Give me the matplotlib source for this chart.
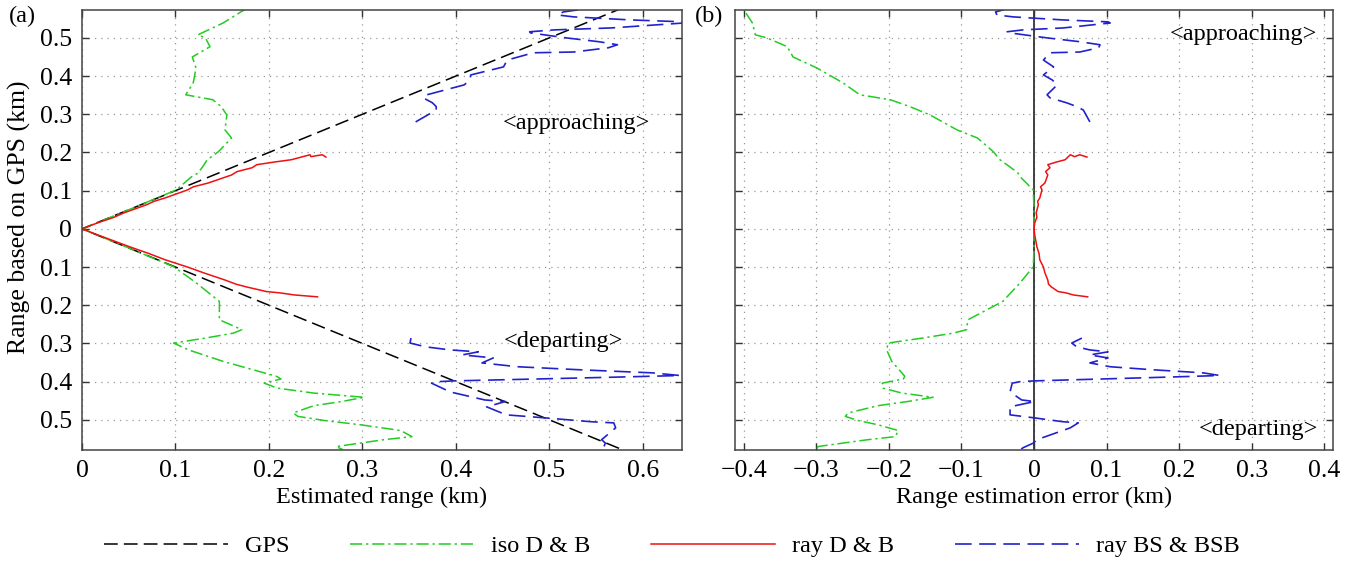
import numpy as np
import matplotlib
matplotlib.use("Agg")
import matplotlib.pyplot as plt
from matplotlib.lines import Line2D
from matplotlib.ticker import FuncFormatter

plt.rcParams["font.family"] = ["Liberation Serif", "DejaVu Serif"]

# GPS range (km): approaching > 0, departing < 0 ; error = estimate - GPS range
iso_app_rng = [0, 0.05, 0.102, 0.136, 0.146, 0.162, 0.181, 0.202, 0.238, 0.259, 0.298, 0.320,
               0.338, 0.351, 0.382, 0.421, 0.450, 0.477, 0.500, 0.508, 0.539, 0.568, 0.578]
iso_app_err = [0, 0.0, -0.001, -0.019, -0.022, -0.033, -0.047, -0.056, -0.078, -0.106, -0.143, -0.171,
               -0.198, -0.240, -0.263, -0.299, -0.332, -0.340, -0.368, -0.384, -0.388, -0.398, -0.401]
iso_dep_rng = [0, -0.05, -0.099, -0.141, -0.190, -0.238, -0.264, -0.273, -0.286, -0.299, -0.317,
               -0.347, -0.386, -0.393, -0.404, -0.417, -0.430, -0.441, -0.452, -0.463, -0.482, -0.491,
               -0.502, -0.513, -0.528, -0.544, -0.552, -0.570, -0.578]
iso_dep_err = [0, 0.0, -0.001, -0.019, -0.043, -0.091, -0.093, -0.111, -0.154, -0.201, -0.203,
               -0.196, -0.178, -0.180, -0.209, -0.208, -0.182, -0.139, -0.174, -0.215, -0.256, -0.260,
               -0.242, -0.215, -0.187, -0.191, -0.229, -0.298, -0.299]

ray_app_rng = [0, 0.016, 0.030, 0.042, 0.063, 0.072, 0.081, 0.102, 0.110, 0.120, 0.141, 0.150,
               0.160, 0.168, 0.175, 0.181, 0.194, 0.189, 0.194, 0.188]
ray_app_err = [0, 0.001, 0.004, 0.003, 0.006, 0.005, 0.008, 0.011, 0.009, 0.015, 0.019, 0.016,
               0.022, 0.019, 0.031, 0.043, 0.050, 0.056, 0.063, 0.073]
ray_dep_rng = [0, -0.016, -0.047, -0.065, -0.081, -0.100, -0.115, -0.134, -0.145, -0.152, -0.164,
               -0.168, -0.173, -0.178]
ray_dep_err = [0, 0.001, 0.004, 0.007, 0.008, 0.013, 0.015, 0.019, 0.020, 0.024, 0.033,
               0.045, 0.054, 0.074]

bs_app_rng = [0.280, 0.311, 0.320, 0.330, 0.343, 0.351, 0.377, 0.390, 0.403, 0.424, 0.442, 0.461,
              0.463, 0.474, 0.482, 0.490, 0.500, 0.513, 0.516, 0.521, 0.526, 0.539, 0.542, 0.547,
              0.555, 0.560, 0.568, 0.573, 0.580]
bs_app_err = [0.077, 0.068, 0.059, 0.045, 0.022, 0.018, 0.032, 0.025, 0.013, 0.027, 0.013, 0.022,
              0.063, 0.089, 0.091, 0.063, 0.018, -0.033, -0.037, -0.015, 0.040, 0.105, 0.102, 0.040,
              -0.029, -0.051, -0.053, -0.043, -0.030]
bs_dep_rng = [-0.286, -0.299, -0.309, -0.317, -0.322, -0.330, -0.338, -0.351, -0.361, -0.369,
              -0.377, -0.384, -0.388, -0.393, -0.398, -0.400, -0.404, -0.427, -0.448, -0.452,
              -0.466, -0.487, -0.495, -0.505, -0.508, -0.521, -0.552, -0.561, -0.573, -0.580]
bs_dep_err = [0.066, 0.052, 0.059, 0.077, 0.102, 0.077, 0.102, 0.077, 0.105, 0.164,
              0.233, 0.256, 0.187, 0.095, 0.001, -0.019, -0.030, -0.033, -0.017, 0.001,
              -0.033, -0.033, 0.001, 0.040, 0.061, 0.050, 0.004, -0.001, -0.015, -0.020]

gps_rng = [0.58, 0, -0.58]

GREEN = "#22cc22"
RED = "#ee1111"
BLUE = "#2222cc"
sty_gps = dict(color="k", lw=1.1, dashes=(9, 4))
sty_iso = dict(color=GREEN, lw=1.1, dashes=(8, 2.5, 1.5, 2.5))
sty_ray = dict(color=RED, lw=1.1)
sty_bs = dict(color=BLUE, lw=1.2, dashes=(10, 4.5))

FS = 17.5
fig = plt.figure(figsize=(13.49, 5.62), dpi=100)
W, H = 1349, 562
ax1 = fig.add_axes([82 / W, 1 - 450 / H, 600 / W, 440 / H])
ax2 = fig.add_axes([735 / W, 1 - 450 / H, 598 / W, 440 / H])


def est(rng, err):
    rng = np.asarray(rng)
    return np.abs(rng) + np.asarray(err), rng


# (a) estimated range
ax1.plot(np.abs(gps_rng), gps_rng, **sty_gps)
for r, e in [(iso_app_rng, iso_app_err), (iso_dep_rng, iso_dep_err)]:
    x, y = est(r, e)
    ax1.plot(x, y, **sty_iso)
for r, e in [(ray_app_rng, ray_app_err), (ray_dep_rng, ray_dep_err)]:
    x, y = est(r, e)
    ax1.plot(x, y, **sty_ray)
for r, e in [(bs_app_rng, bs_app_err), (bs_dep_rng, bs_dep_err)]:
    x, y = est(r, e)
    ax1.plot(x, y, **sty_bs)

# (b) estimation error
ax2.axvline(0, color="#333333", lw=1.3)
ax2.plot(iso_app_err, iso_app_rng, **sty_iso)
ax2.plot(iso_dep_err, iso_dep_rng, **sty_iso)
ax2.plot(ray_app_err, ray_app_rng, **sty_ray)
ax2.plot(ray_dep_err, ray_dep_rng, **sty_ray)
ax2.plot(bs_app_err, bs_app_rng, **sty_bs)
ax2.plot(bs_dep_err, bs_dep_rng, **sty_bs)


def fmt_abs(v, pos):
    if abs(v) < 1e-9:
        return "0"
    return f"{abs(v):.1f}"


def fmt_signed(v, pos):
    if abs(v) < 1e-9:
        return "0"
    return f"{v:.1f}".replace("-", "\u2212")


yt = np.round(np.arange(-0.5, 0.51, 0.1), 2)
for ax in (ax1, ax2):
    ax.set_ylim(-0.579, 0.573)
    ax.set_yticks(yt)
    ax.grid(True, ls=(0, (1, 4)), color="#999999", lw=0.9)
    ax.tick_params(direction="in", top=True, right=True, labelsize=18.5, length=5,
                   width=1, color="#333333", pad=7)
    for s in ax.spines.values():
        s.set_color("#444444")
        s.set_linewidth(1.1)

ax1.set_xlim(0, 0.642)
ax1.set_xticks(np.round(np.arange(0, 0.61, 0.1), 2))
ax1.xaxis.set_major_formatter(FuncFormatter(fmt_abs))
ax1.yaxis.set_major_formatter(FuncFormatter(fmt_abs))
ax1.set_xlabel("Estimated range (km)", fontsize=FS, labelpad=4)
ax1.set_ylabel("Range based on GPS (km)", fontsize=18.5)
ax1.yaxis.set_label_coords(-0.085, 0.53)

ax2.set_xlim(-0.412, 0.412)
ax2.set_xticks(np.round(np.arange(-0.4, 0.41, 0.1), 2))
ax2.xaxis.set_major_formatter(FuncFormatter(fmt_signed))
ax2.yaxis.set_ticklabels([])
ax2.set_xlabel("Range estimation error (km)", fontsize=FS, labelpad=4)

ax1.text(0.529, 0.277, "<approaching>", fontsize=FS, ha="center", va="center")
ax1.text(0.515, -0.296, "<departing>", fontsize=FS, ha="center", va="center")
ax2.text(0.288, 0.508, "<approaching>", fontsize=FS, ha="center", va="center")
ax2.text(0.309, -0.526, "<departing>", fontsize=FS, ha="center", va="center")

fig.text(9 / W, 1 - 16 / H, "(a)", fontsize=FS, va="center", ha="left")
fig.text(695 / W, 1 - 16 / H, "(b)", fontsize=FS, va="center", ha="left")

handles = [Line2D([], [], **sty_gps), Line2D([], [], **sty_iso),
           Line2D([], [], **sty_ray), Line2D([], [], **sty_bs)]
labels = ["GPS", "iso D & B", "ray D & B", "ray BS & BSB"]
fig.legend(handles, labels, loc="center", bbox_to_anchor=(0.498, 1 - 546 / H), ncol=4,
           frameon=False, fontsize=FS, handlelength=5.1, handletextpad=0.7, columnspacing=2.5)

fig.savefig("out.png", dpi=100)
